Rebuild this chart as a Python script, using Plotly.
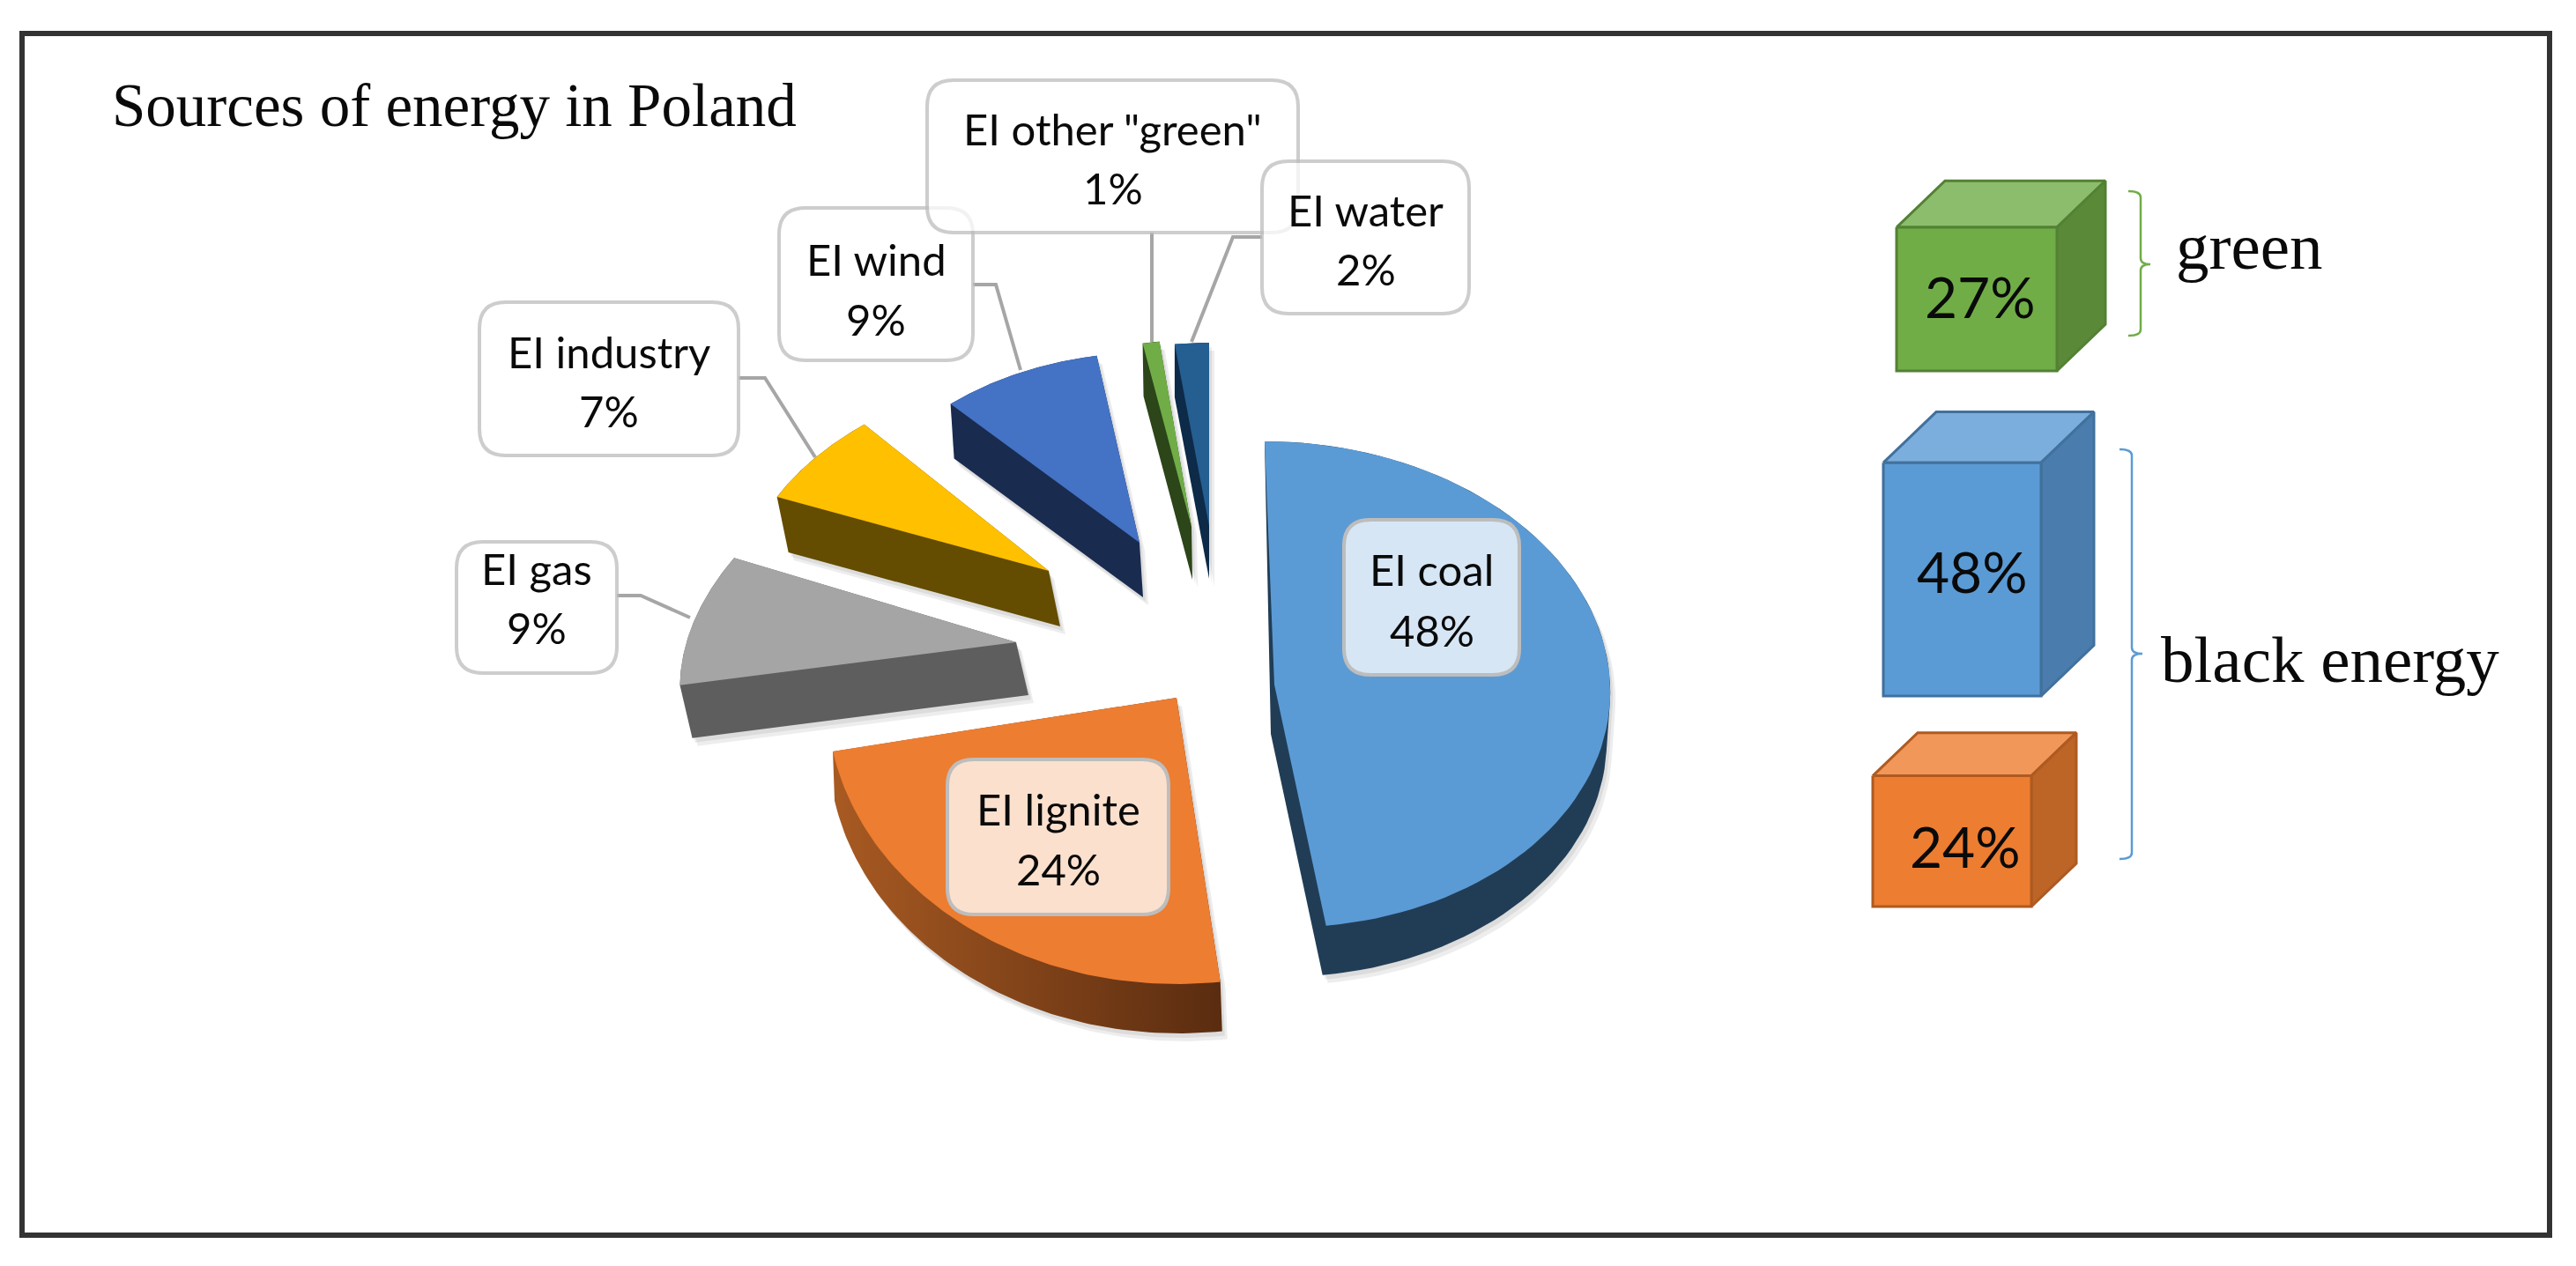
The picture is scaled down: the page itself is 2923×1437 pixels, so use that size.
import numpy as np
import plotly.graph_objects as go

# chart values
source_labels = ["EI coal", "EI lignite", "EI gas", "EI industry", "EI wind", 'EI other "green"', "EI water"]
source_shares = [48, 24, 9, 7, 9, 1, 2]
group_labels = ["green", "black energy"]
cube_shares = [27, 48, 24]

# slice styles: top colour, side colour
top_colors = ["#5B9BD5", "#ED7D31", "#A5A5A5", "#FFC000", "#4472C4", "#70AD47", "#255E91"]
side_colors = ["#213D56", "#7A3F16", "#5E5E5E", "#644C00", "#1A2B50", "#2C4519", "#0D2A48"]
# exploded slice placement on the page: cx, cy, rx, ry, skew, depth dx, depth dy
slice_layout = [
    (1446, 777, 381, 276, 0.04, -4, 56),
    (1335, 792, 397, 325, 0.0, 2, 56),
    (1153, 729, 374, 260, -0.29, 14, 60),
    (1190, 648, 347, 228, -0.17, 13, 63),
    (1293, 616, 327, 216, -0.06, 4, 62),
    (1352, 598, 307, 212, -0.01, 1, 60),
    (1372, 597, 312, 208, 0.0, 0, 60),
]
# callout boxes: x0, y0, x1, y1, fill, y of first line, y of second line
callout_layout = [
    (1525, 590, 1724, 766, "#D6E6F5", 646, 715),
    (1075, 862, 1326, 1038, "#FBE0CD", 918, 986),
    (518, 615, 700, 764, "white", 645, 712),
    (544, 343, 838, 517, "white", 399, 466),
    (884, 236, 1104, 409, "white", 294, 362),
    (1052, 91, 1473, 264, "white", 146, 213),
    (1432, 183, 1667, 356, "white", 238, 305),
]
leader_paths = [
    "M700,676 L727,676 L783,701",
    "M838,429 L868,429 L925,519",
    "M1104,323 L1130,323 L1158,420",
    "M1307,264 L1307,388",
    "M1432,269 L1399,269 L1352,388",
]
# cube placement: left, bottom, width, depth, front, top, side, edge
cube_layout = [
    (2152, 421, 182, 55, "#70AD47", "#8CBD6C", "#5A8A38", "#538135"),
    (2137, 790, 179, 60, "#5B9BD5", "#7CAEDD", "#4A7CAD", "#41719C"),
    (2125, 1029, 180, 51, "#ED7D31", "#F1975A", "#BD6427", "#AE5A21"),
]


def convex_hull(points):
    pts = sorted(set(points))
    def half(seq):
        out = []
        for p in seq:
            while len(out) > 1 and (out[-1][0] - out[-2][0]) * (p[1] - out[-2][1]) - (out[-1][1] - out[-2][1]) * (p[0] - out[-2][0]) <= 0:
                out.pop()
            out.append(p)
        return out[:-1]
    return half(pts) + half(pts[::-1])


def add_poly(fig, pts, color, line_color=None, line_width=0, gradient=None):
    xs = [p[0] for p in pts] + [pts[0][0]]
    ys = [p[1] for p in pts] + [pts[0][1]]
    trace = dict(x=xs, y=ys, mode="lines", fill="toself", hoverinfo="skip", showlegend=False,
                 line=dict(color=line_color or "rgba(0,0,0,0)", width=line_width))
    if gradient:
        trace["fillgradient"] = dict(type="horizontal", colorscale=gradient)
    else:
        trace["fillcolor"] = color
    fig.add_trace(go.Scatter(**trace))


def rounded_rect(x0, y0, x1, y1, r=30):
    return (f"M{x0 + r},{y0} L{x1 - r},{y0} Q{x1},{y0} {x1},{y0 + r} L{x1},{y1 - r} Q{x1},{y1} {x1 - r},{y1} "
            f"L{x0 + r},{y1} Q{x0},{y1} {x0},{y1 - r} L{x0},{y0 + r} Q{x0},{y0} {x0 + r},{y0} Z")


fig = go.Figure()
annotations = []


def add_text(x, y, text, size, family="Lato"):
    annotations.append(dict(x=x, y=y, text=text, showarrow=False, xref="x", yref="y",
                            font=dict(family=family, size=size, color="#0A0A0A")))


# pie slices, angles come from the shares
edges = np.cumsum([0] + source_shares) / sum(source_shares) * 2 * np.pi
for i, share in enumerate(source_shares):
    cx, cy, rx, ry, skew, dx, dy = slice_layout[i]
    theta = np.linspace(edges[i], edges[i + 1], 80)
    top = [(float(cx), float(cy))]
    for t in theta:
        py = -ry * np.cos(t)
        top.append((float(cx + rx * np.sin(t) + skew * py), float(cy + py)))
    moved = [(p[0] + dx, p[1] + dy) for p in top]
    # the back of the coal slice stays hidden, only its front half has a visible side
    if i == 0:
        moved = moved[:1] + moved[30:]
    hull = convex_hull(top + moved)
    for ox, oy in ((6, 9), (3, 5)):
        add_poly(fig, [(p[0] + ox, p[1] + oy) for p in hull], "rgba(0,0,0,0.07)")
    gradient = None
    if i == 1:
        gradient = [[0, "#A85A22"], [1, "#5A2C10"]]
    add_poly(fig, hull, side_colors[i], gradient=gradient)
    add_poly(fig, top, top_colors[i])

# cubes, height follows the share
for share, (left, bottom, width, depth, front, top_c, side, edge) in zip(cube_shares, cube_layout):
    height = 32 + 4.85 * share
    right, ceil = left + width, bottom - height
    rise = depth * 0.96
    add_poly(fig, [(left, ceil), (left + depth, ceil - rise), (right + depth, ceil - rise), (right, ceil)], top_c, edge, 3)
    add_poly(fig, [(right, ceil), (right + depth, ceil - rise), (right + depth, bottom - rise), (right, bottom)], side, edge, 3)
    add_poly(fig, [(left, ceil), (right, ceil), (right, bottom), (left, bottom)], front, edge, 3)

shapes = []
# outer frame
shapes.append(dict(type="rect", x0=25, y0=38, x1=2893, y1=1402, line=dict(color="#333333", width=6), layer="below"))
for path in leader_paths:
    shapes.append(dict(type="path", path=path, line=dict(color="#A6A6A6", width=4), layer="below"))
for i, (x0, y0, x1, y1, fill, line1, line2) in enumerate(callout_layout):
    shapes.append(dict(type="path", path=rounded_rect(x0, y0, x1, y1), fillcolor=fill,
                       opacity=1 if fill != "white" else 0.75,
                       line=dict(color="#BDBDBD", width=4), layer="above"))
    add_text((x0 + x1) / 2, line1, source_labels[i], 49)
    add_text((x0 + x1) / 2, line2, f"{source_shares[i]}%", 49)

# brackets
shapes.append(dict(type="path", path="M2415,217 Q2429,217 2429,224 L2429,293 Q2429,300 2440,300 Q2429,300 2429,307 L2429,374 Q2429,381 2415,381",
                   line=dict(color="#70AD47", width=2.5), layer="above"))
shapes.append(dict(type="path", path="M2405,510 Q2419,510 2419,517 L2419,735 Q2419,742 2431,742 Q2419,742 2419,749 L2419,968 Q2419,975 2405,975",
                   line=dict(color="#5B9BD5", width=2.5), layer="above"))

# cube labels
add_text(2247, 336, f"{cube_shares[0]}%", 64)
add_text(2238, 648, f"{cube_shares[1]}%", 64)
add_text(2230, 960, f"{cube_shares[2]}%", 64)

add_text(2552, 279, group_labels[0], 75, "Liberation Serif")
add_text(2644, 748, group_labels[1], 75, "Liberation Serif")
add_text(515, 120, "Sources of energy in Poland", 69, "Liberation Serif")

fig.update_layout(
    width=2923,
    height=1437,
    margin=dict(l=0, r=0, t=0, b=0),
    paper_bgcolor="white",
    plot_bgcolor="white",
    showlegend=False,
    shapes=shapes,
    annotations=annotations,
    xaxis=dict(range=[0, 2923], visible=False, fixedrange=True),
    yaxis=dict(range=[1437, 0], visible=False, fixedrange=True),
)

fig.write_html("out.html", config={"displayModeBar": False},
               post_script="document.body.style.margin='0';document.body.style.overflow='hidden';")
